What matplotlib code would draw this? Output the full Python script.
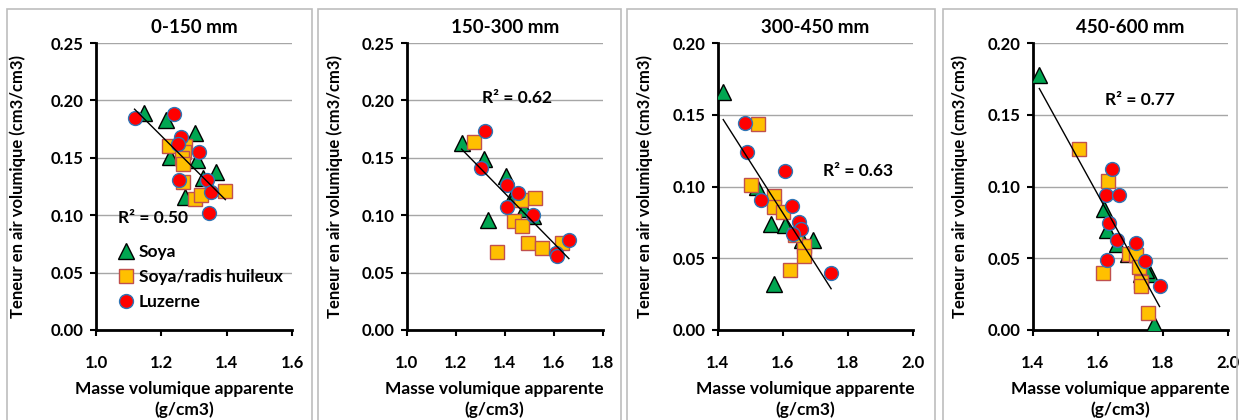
import numpy as np
import matplotlib
matplotlib.use("Agg")
import matplotlib.pyplot as plt
from matplotlib.patches import Rectangle

plt.rcParams['font.family'] = ['Lato', 'DejaVu Sans']
plt.rcParams['font.weight'] = 'bold'

titles = ["0-150 mm", "150-300 mm", "300-450 mm", "450-600 mm"]
series_names = ["Soya", "Soya/radis huileux", "Luzerne"]
r2_labels = ["R² = 0.50", "R² = 0.62", "R² = 0.63", "R² = 0.77"]

# Panel 1 (0-150 mm)
p1_soya_x = [1.148, 1.214, 1.302, 1.227, 1.310, 1.367, 1.327, 1.273]
p1_soya_y = [0.189, 0.183, 0.172, 0.151, 0.148, 0.138, 0.132, 0.116]
p1_radis_x = [1.222, 1.273, 1.270, 1.262, 1.266, 1.267, 1.302, 1.322, 1.396]
p1_radis_y = [0.160, 0.160, 0.155, 0.150, 0.145, 0.129, 0.114, 0.118, 0.121]
p1_luz_x = [1.118, 1.240, 1.260, 1.250, 1.316, 1.253, 1.340, 1.353, 1.347]
p1_luz_y = [0.185, 0.188, 0.168, 0.162, 0.155, 0.131, 0.131, 0.120, 0.102]

# Panel 2 (150-300 mm)
p2_soya_x = [1.224, 1.317, 1.405, 1.429, 1.480, 1.333, 1.515, 1.440]
p2_soya_y = [0.163, 0.149, 0.134, 0.116, 0.105, 0.096, 0.099, 0.118]
p2_radis_x = [1.275, 1.524, 1.439, 1.472, 1.494, 1.551, 1.367, 1.633, 1.465]
p2_radis_y = [0.164, 0.115, 0.095, 0.091, 0.0755, 0.0715, 0.0677, 0.0755, 0.113]
p2_luz_x = [1.320, 1.303, 1.411, 1.456, 1.411, 1.517, 1.608, 1.612, 1.662]
p2_luz_y = [0.1736, 0.1408, 0.1265, 0.1196, 0.107, 0.100, 0.0668, 0.0645, 0.0784]

# Panel 3 (300-450 mm)
p3_soya_x = [1.417, 1.520, 1.564, 1.607, 1.658, 1.692, 1.573]
p3_soya_y = [0.166, 0.100, 0.0738, 0.0733, 0.0630, 0.0630, 0.0320]
p3_radis_x = [1.523, 1.502, 1.574, 1.574, 1.600, 1.666, 1.666, 1.622, 1.638]
p3_radis_y = [0.1437, 0.101, 0.0935, 0.0856, 0.0825, 0.0583, 0.0513, 0.0420, 0.0660]
p3_luz_x = [1.484, 1.491, 1.607, 1.533, 1.629, 1.650, 1.656, 1.633, 1.749]
p3_luz_y = [0.1442, 0.1237, 0.1105, 0.0907, 0.0867, 0.0751, 0.0702, 0.0670, 0.0396]

# Panel 4 (450-600 mm)
p4_soya_x = [1.421, 1.618, 1.630, 1.659, 1.694, 1.734, 1.761, 1.748, 1.772]
p4_soya_y = [0.178, 0.084, 0.070, 0.060, 0.053, 0.039, 0.039, 0.042, 0.004]
p4_radis_x = [1.542, 1.631, 1.615, 1.697, 1.717, 1.727, 1.733, 1.734, 1.755]
p4_radis_y = [0.126, 0.1035, 0.040, 0.0532, 0.0523, 0.0442, 0.0337, 0.0305, 0.0121]
p4_luz_x = [1.643, 1.627, 1.665, 1.635, 1.659, 1.628, 1.718, 1.744, 1.790]
p4_luz_y = [0.1121, 0.094, 0.094, 0.0749, 0.0628, 0.049, 0.0605, 0.0479, 0.0305]

panels = [
    (p1_soya_x, p1_soya_y, p1_radis_x, p1_radis_y, p1_luz_x, p1_luz_y),
    (p2_soya_x, p2_soya_y, p2_radis_x, p2_radis_y, p2_luz_x, p2_luz_y),
    (p3_soya_x, p3_soya_y, p3_radis_x, p3_radis_y, p3_luz_x, p3_luz_y),
    (p4_soya_x, p4_soya_y, p4_radis_x, p4_radis_y, p4_luz_x, p4_luz_y),
]

x_limits = [(1.0, 1.6), (1.0, 1.8), (1.4, 2.0), (1.4, 2.0)]
y_limits = [(0, 0.25), (0, 0.25), (0, 0.20), (0, 0.20)]
r2_pos = [(1.066, 0.0975, 'left'), (1.449, 0.202, 'center'),
          (1.833, 0.111, 'center'), (1.729, 0.1605, 'center')]

W, H = 1241, 420
fig = plt.figure(figsize=(W / 100, H / 100), dpi=100)

# panel frames (pixels)
frames = [(7, 312), (318, 621), (627, 935), (943, 1237)]
for x0, x1 in frames:
    fig.patches.append(Rectangle((x0 / W, -0.05), (x1 - x0) / W, 1.05 - 9 / H,
                                 transform=fig.transFigure, fill=False,
                                 edgecolor='#BDBDBD', linewidth=1.2))

ax_left_px = [96, 406.7, 717.7, 1032.5]
ax_w_px = [196, 196, 195, 195.5]
ylab_offset_px = [78, 72, 73, 72.5]
bottom = 1 - 330 / H
height = 287 / H
height_px = 287

green = '#00A651'
orange = '#FFC000'
red = '#FF0000'

for i, (sx, sy, rx, ry, lx, ly) in enumerate(panels):
    ax = fig.add_axes([ax_left_px[i] / W, bottom, ax_w_px[i] / W, height])
    ax.set_xlim(*x_limits[i])
    ax.set_ylim(*y_limits[i])
    ax.set_xticks(np.arange(x_limits[i][0], x_limits[i][1] + 0.001, 0.2))
    ax.set_yticks(np.arange(0, y_limits[i][1] + 0.001, 0.05))
    ax.xaxis.set_major_formatter(matplotlib.ticker.FormatStrFormatter('%.1f'))
    ax.yaxis.set_major_formatter(matplotlib.ticker.FormatStrFormatter('%.2f'))
    ax.grid(axis='y', color='#A6A6A6', linewidth=1.0)
    ax.set_axisbelow(True)
    for s in ['top', 'right']:
        ax.spines[s].set_visible(False)
    for s in ['left', 'bottom']:
        ax.spines[s].set_linewidth(2.0)
        ax.spines[s].set_color('black')
    ax.tick_params(axis='both', direction='out', length=4, width=1.5,
                   labelsize=12, colors='black')
    ax.tick_params(axis='x', pad=14)
    ax.tick_params(axis='y', pad=5)
    for lab in ax.get_xticklabels() + ax.get_yticklabels():
        lab.set_fontweight('bold')

    ax.plot(sx, sy, linestyle='none', marker='^', markersize=11,
            markerfacecolor=green, markeredgecolor='black', markeredgewidth=1.0,
            label=series_names[0], zorder=3)
    ax.plot(rx, ry, linestyle='none', marker='s', markersize=9.5,
            markerfacecolor=orange, markeredgecolor='#C0504D', markeredgewidth=1.0,
            label=series_names[1], zorder=3)
    ax.plot(lx, ly, linestyle='none', marker='o', markersize=10,
            markerfacecolor=red, markeredgecolor='#2E75B6', markeredgewidth=1.0,
            label=series_names[2], zorder=3)

    allx = np.array(sx + rx + lx)
    ally = np.array(sy + ry + ly)
    k, b = np.polyfit(allx, ally, 1)
    xx = np.array([allx.min(), allx.max()])
    ax.plot(xx, k * xx + b, color='black', linewidth=1.0, zorder=4)

    tx, ty, ha = r2_pos[i]
    ax.text(tx, ty, r2_labels[i], ha=ha, va='center', fontsize=12.5,
            fontweight='bold', zorder=5)

    ax.set_title(titles[i], fontsize=13.5, fontweight='bold', pad=7)
    ax.set_ylabel("Teneur en air volumique (cm3/cm3)", fontsize=12,
                  fontweight='bold')
    ax.yaxis.set_label_coords(-(ylab_offset_px[i] - 8) / ax_w_px[i], 0.5)
    ax.set_xlabel("Masse volumique apparente\n(g/cm3)", fontsize=12.5,
                  fontweight='bold', linespacing=1.3)
    ax.xaxis.set_label_coords(0.5 - 10 / ax_w_px[i], -(381 - 330) / height_px)

    if i == 0:
        leg = ax.legend(loc='upper left', bbox_to_anchor=(0.12, 0.298),
                        frameon=False, fontsize=12.5, handlelength=0.8,
                        handletextpad=0.3, labelspacing=0.5,
                        borderaxespad=0, borderpad=0)
        for t in leg.get_texts():
            t.set_fontweight('bold')

fig.savefig("out.png", dpi=100)
